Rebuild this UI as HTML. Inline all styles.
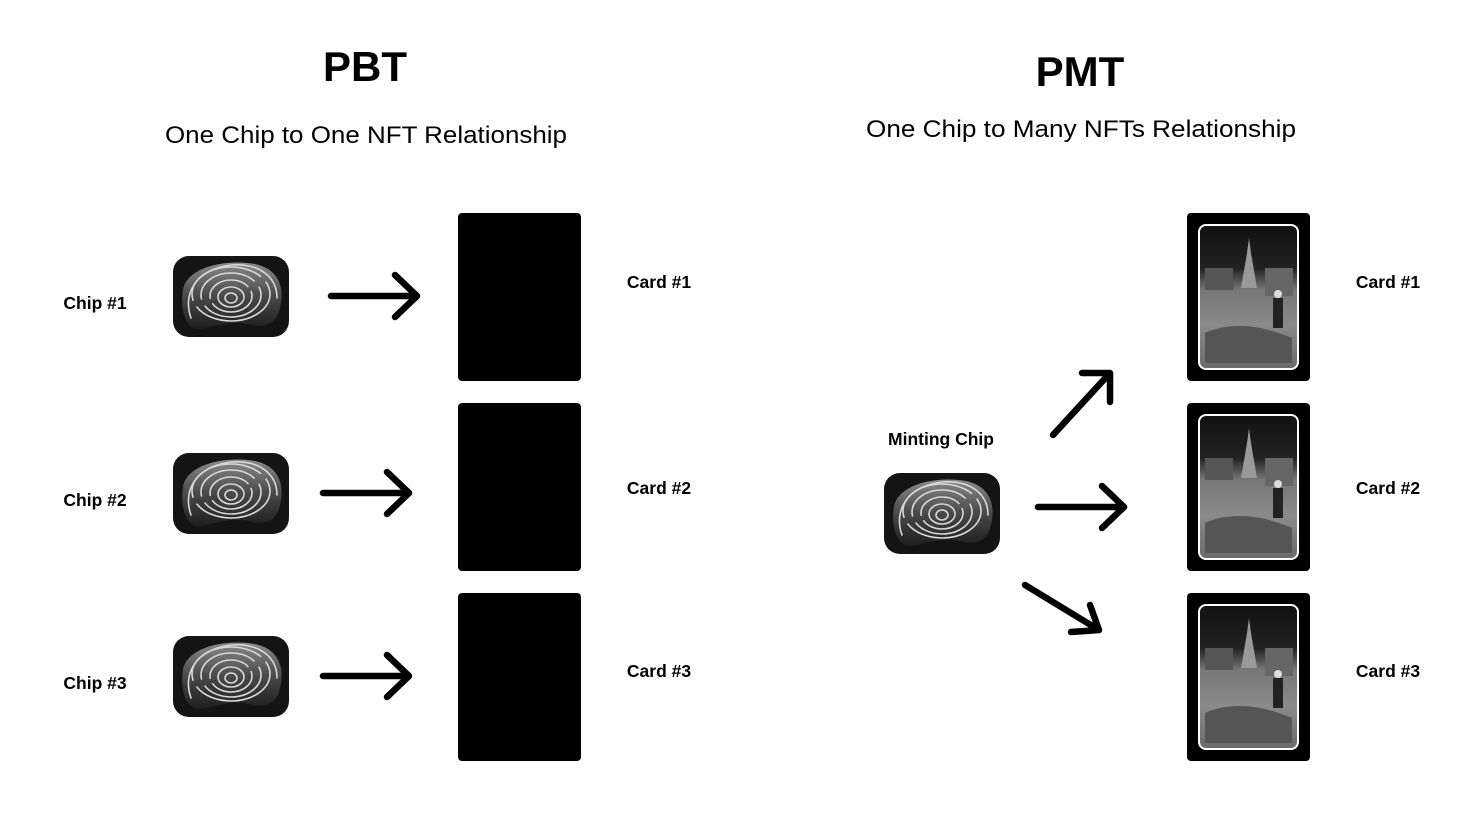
<!DOCTYPE html>
<html><head><meta charset="utf-8"><style>
html,body{margin:0;padding:0;background:#fff;}
svg{display:block;font-family:"Liberation Sans",sans-serif;}
</style></head><body>
<svg width="1467" height="825" viewBox="0 0 1467 825" xmlns="http://www.w3.org/2000/svg">
<defs>
<linearGradient id="bean" x1="0" y1="0" x2="0" y2="1">
<stop offset="0" stop-color="#8a8a8a"/><stop offset="0.5" stop-color="#4a4a4a"/><stop offset="1" stop-color="#1e1e1e"/>
</linearGradient>
<linearGradient id="scene" x1="0" y1="0" x2="0" y2="1">
<stop offset="0" stop-color="#111"/><stop offset="0.3" stop-color="#222"/><stop offset="0.45" stop-color="#777"/><stop offset="0.7" stop-color="#8a8a8a"/><stop offset="1" stop-color="#6a6a6a"/>
</linearGradient>
<g id="chip">
<rect x="0" y="0" width="116" height="81" rx="16" fill="#141414"/>
<path d="M10 34 C14 10 55 3 82 8 C106 13 112 32 107 52 C103 70 90 72 75 68 C60 64 45 70 28 73 C12 75 7 52 10 34 Z" fill="url(#bean)"/>
<g fill="none" stroke="#d8d8d8" stroke-width="1.6" stroke-linecap="round">
<ellipse cx="58" cy="42" rx="6" ry="5"/>
<ellipse cx="58" cy="41" rx="13" ry="10"/>
<ellipse cx="58" cy="40" rx="21" ry="16" stroke-dasharray="50 6"/>
<ellipse cx="58" cy="39" rx="30" ry="22" stroke-dasharray="70 8"/>
<ellipse cx="58" cy="38" rx="39" ry="27" stroke-dasharray="90 8"/>
<path d="M18 62 C10 40 20 14 58 9 C88 7 104 22 104 42" />
</g>
</g>
<g id="card">
<rect x="0" y="0" width="123" height="168" rx="4" fill="#000"/>
<rect x="12" y="12" width="99" height="144" rx="7" fill="url(#scene)" stroke="#fff" stroke-width="2"/>
<path d="M60 40 L62 25 L64 40 L70 75 L54 75 Z" fill="#999"/>
<rect x="18" y="55" width="28" height="22" fill="#555"/>
<rect x="78" y="55" width="28" height="28" fill="#666"/>
<path d="M18 120 C40 110 70 110 105 125 L105 150 L18 150 Z" fill="#555"/>
<rect x="86" y="85" width="10" height="30" fill="#222"/>
<circle cx="91" cy="81" r="4" fill="#ddd"/>
</g>
<g id="arr" fill="none" stroke="#000" stroke-width="6.5" stroke-linecap="round" stroke-linejoin="round">
<path d="M0 0 L86 0 M64 -21 L86 0 L64 21"/>
</g>
</defs>

<text x="365" y="81" font-size="42" font-weight="bold" text-anchor="middle">PBT</text>
<text x="366" y="143" font-size="24" text-anchor="middle" textLength="402" lengthAdjust="spacingAndGlyphs">One Chip to One NFT Relationship</text>
<text x="1080" y="86" font-size="42" font-weight="bold" text-anchor="middle">PMT</text>
<text x="1081" y="137" font-size="24" text-anchor="middle" textLength="430" lengthAdjust="spacingAndGlyphs">One Chip to Many NFTs Relationship</text>

<g font-size="17.5" font-weight="bold" text-anchor="middle">
<text x="95" y="309">Chip #1</text>
<text x="95" y="506">Chip #2</text>
<text x="95" y="689">Chip #3</text>
<text x="659" y="288">Card #1</text>
<text x="659" y="494">Card #2</text>
<text x="659" y="677">Card #3</text>
<text x="1388" y="288">Card #1</text>
<text x="1388" y="494">Card #2</text>
<text x="1388" y="677">Card #3</text>
<text x="941" y="445">Minting Chip</text>
</g>

<use href="#chip" x="173" y="256"/>
<use href="#chip" x="173" y="453"/>
<use href="#chip" x="173" y="636"/>
<use href="#chip" x="884" y="473"/>

<rect x="458" y="213" width="123" height="168" rx="4" fill="#000"/>
<rect x="458" y="403" width="123" height="168" rx="4" fill="#000"/>
<rect x="458" y="593" width="123" height="168" rx="4" fill="#000"/>

<use href="#card" x="1187" y="213"/>
<use href="#card" x="1187" y="403"/>
<use href="#card" x="1187" y="593"/>

<use href="#arr" transform="translate(331,296)"/>
<use href="#arr" transform="translate(323,493)"/>
<use href="#arr" transform="translate(323,676)"/>
<use href="#arr" transform="translate(1038,507)"/>
<g fill="none" stroke="#000" stroke-width="6.5" stroke-linecap="round" stroke-linejoin="round">
<path d="M1053 435 L1110 373 M1082 373 L1110 373 L1110 402"/>
<path d="M1025 585 L1099 630 M1071 632 L1099 630 L1090 605"/>
</g>
</svg>
</body></html>
